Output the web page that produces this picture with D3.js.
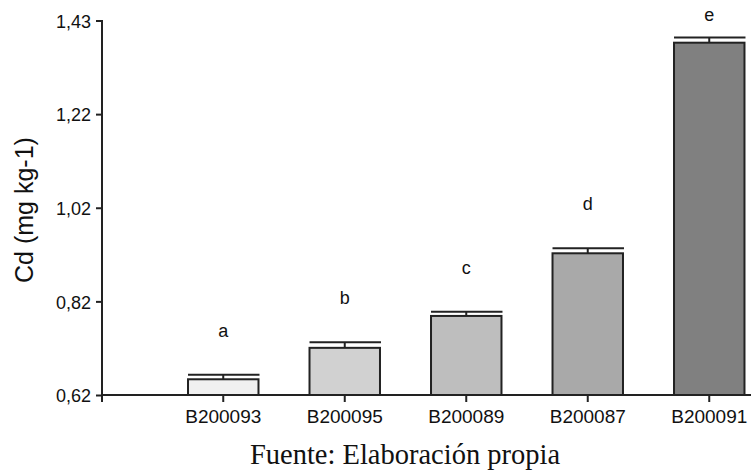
<!DOCTYPE html>
<html>
<head>
<meta charset="utf-8">
<script src="https://cdn.jsdelivr.net/npm/d3@7/dist/d3.min.js"></script>
<style>
  html, body { margin: 0; padding: 0; background: #fff; }
  svg { display: block; }
</style>
</head>
<body>
<svg id="chart" width="751" height="472"></svg>
<script>
// Cadmium content per variety (mean ± error) with significance groups
const categories = ["B200093", "B200095", "B200089", "B200087", "B200091"];
const means = [0.654, 0.722, 0.791, 0.9265, 1.382];
const errors = [0.010, 0.012, 0.009, 0.011, 0.011];
const groups = ["a", "b", "c", "d", "e"];
const fills = ["#f0f0f0", "#d1d1d1", "#bebebe", "#a9a9a9", "#808080"];
const yTickLabels = ["0,62", "0,82", "1,02", "1,22", "1,43"];
const yTitle = "Cd (mg kg-1)";
const caption = "Fuente: Elaboración propia";

const svg = d3.select("#chart");
const ink = "#222";
const sans = "'Liberation Sans', Arial, sans-serif";

const yMin = 0.62, yMax = 1.43;
const y = d3.scaleLinear().domain([yMin, yMax]).range([395, 20.5]);
const x = d3.scaleBand().domain(categories).range([162.5, 770])
  .paddingInner(0.42).paddingOuter(0.21);

const rows = categories.map((c, i) => ({
  cat: c, mean: means[i], err: errors[i], group: groups[i], fill: fills[i]
}));

// Bars
svg.append("g").selectAll("rect").data(rows).join("rect")
  .attr("x", d => x(d.cat))
  .attr("y", d => y(d.mean))
  .attr("width", x.bandwidth())
  .attr("height", d => y(yMin) - y(d.mean))
  .attr("fill", d => d.fill)
  .attr("stroke", ink)
  .attr("stroke-width", 2);

// Error bars (upper whisker with cap)
const eb = svg.append("g").attr("stroke", ink).attr("stroke-width", 2);
eb.selectAll("line.stem").data(rows).join("line").attr("class", "stem")
  .attr("x1", d => x(d.cat) + x.bandwidth() / 2)
  .attr("x2", d => x(d.cat) + x.bandwidth() / 2)
  .attr("y1", d => y(d.mean))
  .attr("y2", d => y(d.mean + d.err));
eb.selectAll("line.cap").data(rows).join("line").attr("class", "cap")
  .attr("x1", d => x(d.cat))
  .attr("x2", d => x(d.cat) + x.bandwidth() + 1)
  .attr("y1", d => y(d.mean + d.err))
  .attr("y2", d => y(d.mean + d.err));

// Significance letters
svg.append("g").selectAll("text").data(rows).join("text")
  .attr("x", d => x(d.cat) + x.bandwidth() / 2)
  .attr("y", d => Math.max(y(d.mean + d.err) - 38, 21))
  .attr("text-anchor", "middle")
  .attr("font-family", sans)
  .attr("font-size", 18)
  .attr("fill", "#111")
  .text(d => d.group);

// Y axis
const yTicks = yTickLabels.map((_, i) => yMin + i * (yMax - yMin) / (yTickLabels.length - 1));
const yAxis = d3.axisLeft(y).tickValues(yTicks)
  .tickFormat((d, i) => yTickLabels[i]).tickSize(6).tickPadding(5);
const gy = svg.append("g").attr("transform", "translate(102,0)").call(yAxis);
gy.select(".domain").remove();
gy.append("line").attr("x1", 0).attr("x2", 0).attr("y1", 20).attr("y2", 402)
  .attr("stroke", ink).attr("stroke-width", 2);
gy.selectAll(".tick line").attr("stroke", ink).attr("stroke-width", 2);
gy.selectAll(".tick text").attr("font-family", sans).attr("font-size", 18)
  .attr("fill", "#111").attr("dy", "0.38em");

// X axis
const xAxis = d3.axisBottom(x).tickSize(7).tickPadding(8);
const gx = svg.append("g").attr("transform", "translate(0,395)").call(xAxis);
gx.select(".domain").remove();
gx.append("line").attr("x1", 101).attr("x2", 751).attr("y1", 0).attr("y2", 0)
  .attr("stroke", ink).attr("stroke-width", 2);
gx.selectAll(".tick line").attr("stroke", ink).attr("stroke-width", 2);
gx.selectAll(".tick text").attr("font-family", sans).attr("font-size", 19)
  .attr("fill", "#111");

// Y title
svg.append("text")
  .attr("transform", "translate(33,210) rotate(-90)")
  .attr("text-anchor", "middle")
  .attr("font-family", sans)
  .attr("font-size", 25)
  .attr("fill", "#111")
  .text(yTitle);

// Source note
svg.append("text")
  .attr("x", 405).attr("y", 464)
  .attr("text-anchor", "middle")
  .attr("font-family", "'Liberation Serif', 'Times New Roman', serif")
  .attr("font-size", 28.5)
  .attr("fill", "#111")
  .text(caption);
</script>
</body>
</html>
